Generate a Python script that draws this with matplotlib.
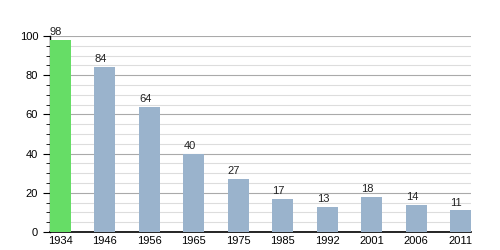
import matplotlib
matplotlib.use('Agg')
import matplotlib.pyplot as plt
from matplotlib.ticker import MultipleLocator

plt.rcParams['font.family'] = ['Liberation Sans', 'DejaVu Sans']

# Data
years = ['1934', '1946', '1956', '1965', '1975', '1985', '1992', '2001', '2006', '2011']
values = [98, 84, 64, 40, 27, 17, 13, 18, 14, 11]
colors = ['#66dd66'] + ['#9ab3cc'] * (len(values) - 1)

fig = plt.figure(figsize=(5, 2.5), dpi=100)
ax = fig.add_axes([0.1, 0.072, 0.842, 0.784])

w = 0.47
x = list(range(len(years)))
ax.bar(x, values, width=w, color=colors, zorder=3)

# value labels above bars
for i, v in enumerate(values):
    ax.text(i - w / 2, v + 1.5, str(v), ha='left', va='bottom', fontsize=8,
            color='#222222', clip_on=False, zorder=4)

ax.set_xlim(-w / 2, len(years) - 1 + w / 2)
ax.set_ylim(0, 100)
ax.set_xticks(x)
ax.set_xticklabels(years)
ax.yaxis.set_major_locator(MultipleLocator(20))
ax.yaxis.set_minor_locator(MultipleLocator(5))

ax.grid(which='major', axis='y', color='#aaaaaa', linewidth=0.8, zorder=0)
ax.grid(which='minor', axis='y', color='#dddddd', linewidth=0.8, zorder=0)

for s in ['top', 'right']:
    ax.spines[s].set_visible(False)
ax.spines['left'].set_linewidth(1)
ax.spines['bottom'].set_linewidth(1.2)

ax.tick_params(axis='y', which='major', length=5, labelsize=8)
ax.tick_params(axis='y', which='minor', length=3)
ax.tick_params(axis='x', length=0, labelsize=8, pad=3)

plt.savefig('out.png', dpi=100)
